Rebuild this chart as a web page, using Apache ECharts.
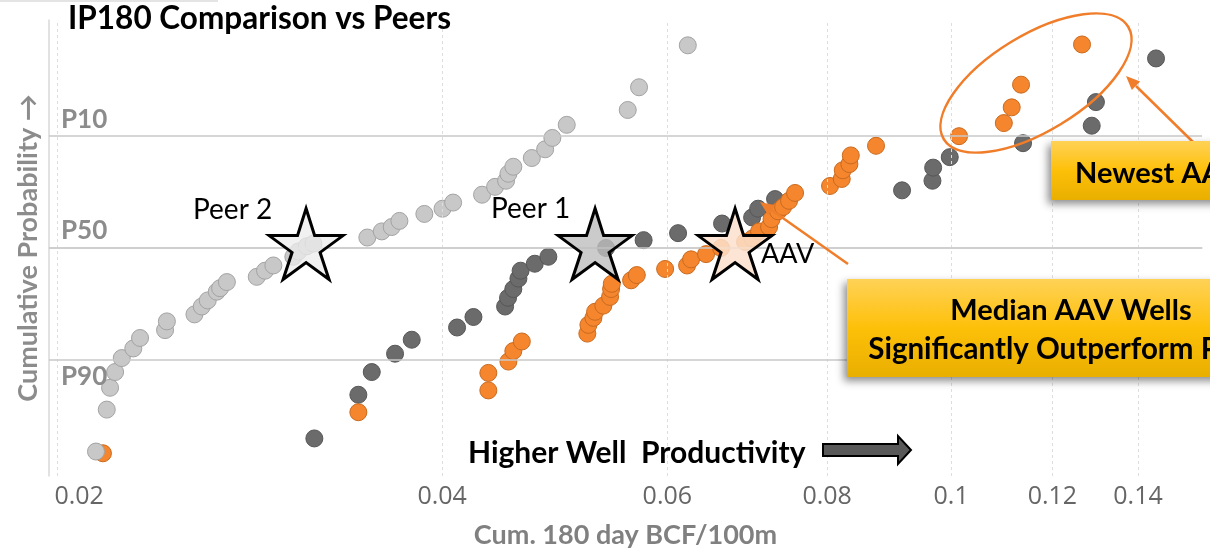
<!DOCTYPE html>
<html>
<head>
<meta charset="utf-8">
<title>IP180 Comparison vs Peers</title>
<script src="https://cdn.jsdelivr.net/npm/echarts@6/dist/echarts.min.js"></script>
<style>
html,body{margin:0;padding:0;background:#fff;}
#chart{width:1210px;height:554px;}
</style>
</head>
<body>
<div id="chart"></div>
<script>
// x: 180天累计产量 BCF/100m (对数轴), y: 累计概率的正态分位 z 值 (P10 = +1.2816)
var xTicks = [0.02, 0.04, 0.06, 0.08, 0.1, 0.12, 0.14];
var pNames = ['P10', 'P50', 'P90'];
var pZ = [1.2816, 0, -1.2816];

// Peer 2 (浅灰)
var peer2 = [
  [0.02145,-2.33],[0.02187,-1.85],[0.02200,-1.60],[0.02220,-1.42],[0.02247,-1.26],
  [0.02294,-1.15],[0.02322,-1.03],[0.02429,-0.94],[0.02437,-0.84],[0.02561,-0.76],
  [0.02595,-0.67],[0.02623,-0.60],[0.02666,-0.50],[0.02682,-0.46],[0.02715,-0.39],
  [0.02865,-0.33],[0.02908,-0.26],[0.02952,-0.20],[0.03060,-0.10],[0.03088,-0.04],
  [0.03135,0.02],[0.03173,0.05],[0.03496,0.12],[0.03588,0.19],[0.03653,0.24],
  [0.03704,0.31],[0.03874,0.39],[0.04003,0.45],[0.04080,0.52],[0.04298,0.61],
  [0.04400,0.70],[0.04488,0.77],[0.04507,0.85],[0.04547,0.93],[0.04701,1.03],
  [0.04815,1.13],[0.04878,1.26],[0.05006,1.41],[0.05587,1.58],[0.05702,1.84],
  [0.06225,2.32]
];

// Peer 1 (深灰)
var peer1 = [
  [0.03178,-2.18],[0.03440,-1.68],[0.03524,-1.42],[0.03675,-1.21],[0.03787,-1.05],
  [0.04109,-0.91],[0.04232,-0.79],[0.04480,-0.67],[0.04504,-0.57],[0.04547,-0.47],
  [0.04589,-0.35],[0.04607,-0.26],[0.04726,-0.18],[0.04843,-0.10],[0.05373,0.00],
  [0.05749,0.09],[0.06117,0.17],[0.06621,0.28],[0.06989,0.35],[0.07065,0.45],
  [0.07284,0.56],[0.09155,0.66],[0.09670,0.77],[0.09682,0.92],[0.09976,1.04],
  [0.11383,1.20],[0.12881,1.40],[0.12979,1.67],[0.14462,2.17]
];

// AAV (橙色)
var aav = [
  [0.02172,-2.35],[0.03440,-1.88],[0.04347,-1.63],[0.04347,-1.43],[0.04507,-1.30],
  [0.04547,-1.18],[0.04617,-1.07],[0.05195,-0.98],[0.05205,-0.88],[0.05252,-0.80],
  [0.05268,-0.73],[0.05347,-0.66],[0.05412,-0.56],[0.05422,-0.47],[0.05429,-0.41],
  [0.05621,-0.37],[0.05679,-0.31],[0.05976,-0.24],[0.06217,-0.20],[0.06262,-0.13],
  [0.06433,-0.07],[0.06609,0.00],[0.06901,0.07],[0.06995,0.11],[0.07077,0.19],
  [0.07206,0.24],[0.07238,0.33],[0.07324,0.42],[0.07390,0.47],[0.07470,0.54],
  [0.07551,0.63],[0.08042,0.71],[0.08213,0.79],[0.08228,0.89],[0.08327,0.96],
  [0.08348,1.06],[0.08736,1.17],[0.10144,1.28],[0.10996,1.43],[0.11153,1.61],
  [0.11342,1.87],[0.12658,2.33]
];

// 中位数 (星形)
var starNames = ['Peer 2', 'Peer 1', 'AAV'];
var starX = [0.03131, 0.05268, 0.06778];
var starFill = ['rgba(236,236,236,0.75)', 'rgba(190,190,190,0.8)', 'rgba(252,224,204,0.85)'];

var starPath = 'path://M0,-100L22,-31L95,-31L36,12L59,81L0,38L-59,81L-36,12L-95,-31L-22,-31Z';
var orange = '#f07d2a';

var myChart = echarts.init(document.getElementById('chart'));

function dots(name, data, fill, border) {
  return {
    name: name,
    type: 'scatter',
    data: data,
    symbolSize: 17,
    silent: true,
    animation: false,
    itemStyle: { color: fill, borderColor: border, borderWidth: 1, opacity: 1 }
  };
}

var s1 = dots('Peer 1', peer1, '#6b6b6b', '#575757');
// 纵向网格线和横轴刻度
s1.markLine = {
  silent: true,
  animation: false,
  symbol: ['none', 'none'],
  lineStyle: { color: '#dedede', type: [3, 3], width: 1 },
  label: {
    position: 'start',
    distance: 8,
    formatter: function (p) { return p.value; },
    fontFamily: 'Open Sans',
    fontSize: 25,
    color: '#666666'
  },
  data: xTicks.map(function (v, i) {
    // 第一个刻度标签贴着轴起点
    return i === 0 ? { xAxis: v, label: { offset: [22, 0] } } : { xAxis: v };
  })
};

var s2 = dots('AAV', aav, '#f5862e', '#c96a1f');
// P10 / P50 / P90 横线
s2.markLine = {
  silent: true,
  animation: false,
  symbol: ['none', 'none'],
  lineStyle: { color: '#c8c8c8', type: 'solid', width: 1.5 },
  label: { fontFamily: 'Lato', fontWeight: 'bold', fontSize: 26, color: '#8c8c8c', distance: [12, 4] },
  data: pZ.map(function (z, i) {
    return {
      yAxis: z,
      label: { formatter: pNames[i], position: i < 2 ? 'insideStartTop' : 'insideStartBottom' }
    };
  })
};

var s3 = dots('Peer 2', peer2, '#c8c8c8', '#a3a3a3');

var starData = [];
for (var i = 0; i < starNames.length; i++) {
  starData.push({ name: starNames[i], value: [starX[i], 0], itemStyle: { color: starFill[i] } });
}

myChart.setOption({
  backgroundColor: '#ffffff',
  animation: false,
  grid: { left: 49, top: 20, right: 8, bottom: 78 },
  xAxis: {
    type: 'log',
    min: 0.01971,
    max: 0.1571,
    axisLine: { show: true, lineStyle: { color: '#d9d9d9', width: 1.5 } },
    axisTick: { show: false },
    axisLabel: { show: false },
    splitLine: { show: false },
    name: 'Cum. 180 day BCF/100m',
    nameLocation: 'middle',
    nameGap: 46,
    nameTextStyle: { fontFamily: 'Lato', fontWeight: 'bold', fontSize: 27, color: '#808080' }
  },
  yAxis: {
    type: 'value',
    min: -2.61,
    max: 2.61,
    axisLine: { show: true, lineStyle: { color: '#d9d9d9', width: 1.5 } },
    axisTick: { show: false },
    axisLabel: { show: false },
    splitLine: { show: false },
    name: 'Cumulative Probability \u2192',
    nameLocation: 'middle',
    nameGap: 7,
    nameTextStyle: { fontFamily: 'Lato', fontWeight: 'bold', fontSize: 27, color: '#8c8c8c' }
  },
  series: [
    s1, s2, s3,
    {
      name: 'Median',
      type: 'scatter',
      data: starData,
      symbol: starPath,
      symbolSize: [74, 71],
      symbolOffset: [0, -4],
      silent: true,
      z: 5,
      itemStyle: { borderColor: '#000000', borderWidth: 3, opacity: 1 }
    }
  ],
  graphic: [
    { type: 'rect', z: 10, silent: true, shape: { x: 0, y: 0, width: 218, height: 2 }, style: { fill: '#e4e4e4' } },
    { type: 'text', z: 10, x: 68, y: 19, style: { text: 'IP180 Comparison vs Peers', font: 'bold 31.5px Lato', fill: '#000', verticalAlign: 'middle' } },
    { type: 'text', z: 10, x: 193, y: 210, style: { text: 'Peer 2', font: '28px Lato', fill: '#000', verticalAlign: 'middle' } },
    { type: 'text', z: 10, x: 491, y: 209, style: { text: 'Peer 1', font: '28px Lato', fill: '#000', verticalAlign: 'middle' } },
    { type: 'text', z: 10, x: 761, y: 254, style: { text: 'AAV', font: '27px Lato', fill: '#000', verticalAlign: 'middle' } },
    { type: 'text', z: 10, x: 468, y: 453, style: { text: 'Higher Well  Productivity', font: 'bold 30px Lato', fill: '#000', verticalAlign: 'middle' } },
    {
      type: 'polygon', z: 10,
      shape: { points: [[823, 444], [898, 444], [898, 436], [911, 450], [898, 464], [898, 456], [823, 456]] },
      style: { fill: '#595959', stroke: '#000', lineWidth: 2 }
    },
    // 最新井的椭圆圈
    {
      type: 'ellipse', z: 10, x: 1036, y: 83, rotation: 0.548,
      shape: { cx: 0, cy: 0, rx: 108, ry: 48 },
      style: { fill: 'none', stroke: orange, lineWidth: 2.5 }
    },
    { type: 'line', z: 10, shape: { x1: 1194, y1: 143, x2: 1136, y2: 86 }, style: { stroke: orange, lineWidth: 2.5 } },
    { type: 'polygon', z: 10, shape: { points: [[1126, 76], [1140.2, 81.5], [1131.8, 90.1]] }, style: { fill: orange } },
    { type: 'line', z: 10, shape: { x1: 848, y1: 264, x2: 771.5, y2: 210 }, style: { stroke: orange, lineWidth: 2.5 } },
    { type: 'polygon', z: 10, shape: { points: [[760, 202], [774.9, 205.2], [768, 215]] }, style: { fill: orange } },
    // 黄色说明框
    {
      type: 'rect', z: 11,
      shape: { x: 1051, y: 141, width: 220, height: 59 },
      style: {
        fill: { type: 'linear', x: 0, y: 0, x2: 0, y2: 1, colorStops: [{ offset: 0, color: '#ffd257' }, { offset: 0.5, color: '#fdc009' }, { offset: 1, color: '#e9af00' }] },
        shadowBlur: 8, shadowColor: 'rgba(0,0,0,0.45)', shadowOffsetX: -3, shadowOffsetY: 4
      }
    },
    { type: 'text', z: 12, x: 1075, y: 174, style: { text: 'Newest AAV Wells', font: 'bold 29px Lato', fill: '#000', verticalAlign: 'middle' } },
    {
      type: 'rect', z: 11,
      shape: { x: 847, y: 279, width: 448, height: 98 },
      style: {
        fill: { type: 'linear', x: 0, y: 0, x2: 0, y2: 1, colorStops: [{ offset: 0, color: '#ffd257' }, { offset: 0.5, color: '#fdc009' }, { offset: 1, color: '#e9af00' }] },
        shadowBlur: 8, shadowColor: 'rgba(0,0,0,0.45)', shadowOffsetX: -3, shadowOffsetY: 4
      }
    },
    { type: 'text', z: 12, x: 1071, y: 311, style: { text: 'Median AAV Wells', font: 'bold 29px Lato', fill: '#000', align: 'center', verticalAlign: 'middle' } },
    { type: 'text', z: 12, x: 1071, y: 349, style: { text: 'Significantly Outperform Peers', font: 'bold 29.5px Lato', fill: '#000', align: 'center', verticalAlign: 'middle' } }
  ]
});
</script>
</body>
</html>
